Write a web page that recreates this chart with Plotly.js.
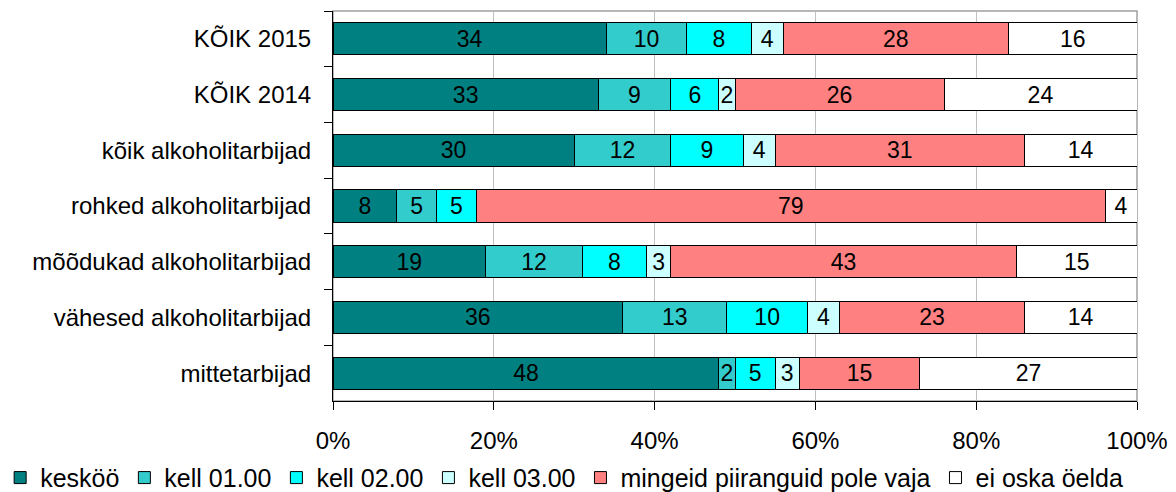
<!DOCTYPE html>
<html>
<head>
<meta charset="utf-8">
<script src="https://cdn.plot.ly/plotly-3.0.1.min.js"></script>
<style>html,body{margin:0;padding:0;background:#fff;}#chart{width:1176px;height:492px;}</style>
</head>
<body>
<div id="chart"></div>
<script>
var categories = ["KÕIK 2015", "KÕIK 2014", "kõik alkoholitarbijad", "rohked alkoholitarbijad", "mõõdukad alkoholitarbijad", "vähesed alkoholitarbijad", "mittetarbijad"];
var seriesNames = ["kesköö", "kell 01.00", "kell 02.00", "kell 03.00", "mingeid piiranguid pole vaja", "ei oska öelda"];
var kesköö = [34, 33, 30, 8, 19, 36, 48];
var kell0100 = [10, 9, 12, 5, 12, 13, 2];
var kell0200 = [8, 6, 9, 5, 8, 10, 5];
var kell0300 = [4, 2, 4, 0, 3, 4, 3];
var poleVaja = [28, 26, 31, 79, 43, 23, 15];
var eiOska = [16, 24, 14, 4, 15, 14, 27];
var xTicks = [0, 20, 40, 60, 80, 100];
var xTickText = ["0%", "20%", "40%", "60%", "80%", "100%"];

var colors = ["#008080", "#33CCCC", "#00FFFF", "#CCFFFF", "#FF8080", "#FFFFFF"];
var series = [kesköö, kell0100, kell0200, kell0300, poleVaja, eiOska];
var FONT = "Liberation Sans, Arial, sans-serif";

var traces = series.map(function (vals, i) {
  return {
    type: "bar",
    orientation: "h",
    name: seriesNames[i],
    y: categories,
    x: vals,
    text: vals.map(function (v) { return v > 0 ? String(v) : ""; }),
    texttemplate: "%{text}",
    textposition: "inside",
    insidetextanchor: "middle",
    textangle: 0,
    constraintext: "none",
    textfont: {family: FONT, size: 23, color: "#000"},
    marker: {color: colors[i], line: {color: "#000", width: 1}},
    hoverinfo: "skip"
  };
});

var layout = {
  width: 1176,
  height: 492,
  margin: {l: 333, r: 39, t: 11, b: 91, pad: 0, autoexpand: false},
  barmode: "stack",
  barnorm: "percent",
  bargap: 0.425,
  paper_bgcolor: "#fff",
  plot_bgcolor: "#fff",
  font: {family: FONT, size: 24, color: "#000"},
  showlegend: true,
  legend: {
    orientation: "h",
    x: -0.414,
    xanchor: "left",
    y: -0.197,
    yanchor: "middle",
    bgcolor: "rgba(0,0,0,0)",
    font: {family: FONT, size: 25, color: "#000"},
    traceorder: "normal",
    itemclick: false
  },
  xaxis: {
    range: [0, 100],
    tickvals: xTicks,
    ticktext: xTickText,
    showgrid: true,
    gridcolor: "#c0c0c0",
    gridwidth: 1,
    zeroline: false,
    showline: true,
    linecolor: "#000",
    linewidth: 1,
    ticks: "outside",
    ticklen: 8,
    tickcolor: "#000",
    ticklabelstandoff: 10,
    tickfont: {family: FONT, size: 24, color: "#000"},
    automargin: false,
    fixedrange: true
  },
  yaxis: {
    type: "category",
    autorange: "reversed",
    showgrid: false,
    showline: true,
    linecolor: "#000",
    linewidth: 1,
    ticks: "outside",
    tickson: "boundaries",
    ticklen: 8,
    tickcolor: "#000",
    ticklabelstandoff: 16,
    tickfont: {family: FONT, size: 24, color: "#000"},
    automargin: false,
    fixedrange: true
  },
  shapes: [{
    type: "rect", xref: "paper", yref: "paper",
    x0: 0, x1: 1, y0: 0, y1: 1,
    line: {color: "#a0a0a0", width: 1.5},
    layer: "below"
  }]
};

Plotly.newPlot("chart", traces, layout, {displayModeBar: false, staticPlot: true});
</script>
</body>
</html>
